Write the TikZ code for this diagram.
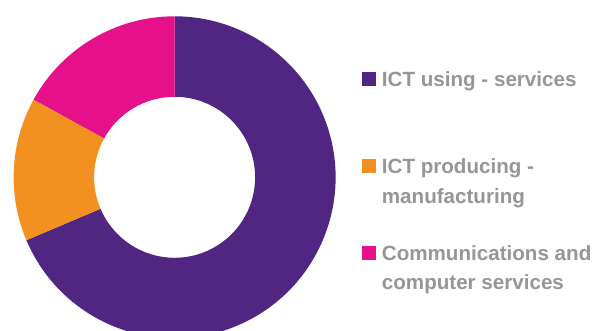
\documentclass[tikz,border=0pt]{standalone}
\usepackage{fontspec}
\setmainfont{Liberation Sans}
\definecolor{cPurple}{RGB}{81,38,131}
\definecolor{cOrange}{RGB}{243,145,32}
\definecolor{cPink}{RGB}{230,16,138}
\definecolor{cText}{RGB}{150,150,150}
\tikzset{
  legtext/.style={anchor=base west, inner sep=0pt, text=cText, font=\fontsize{20.6}{30}\selectfont\bfseries},
  legbox/.style={inner sep=0pt, minimum size=14pt, anchor=south west},
}
\begin{document}
\begin{tikzpicture}[x=1pt,y=1pt]
\clip (0,0) rectangle (595,331);
\fill[white] (0,0) rectangle (595,331);
\begin{scope}[shift={(174.6,153.7)}]
  \fill[cPurple] (203:161) arc[start angle=203, end angle=450, radius=161] -- (450:80.5) arc[start angle=450, end angle=203, radius=80.5] -- cycle;
  \fill[cPink] (90:161) arc[start angle=90, end angle=151.2, radius=161] -- (151.2:80.5) arc[start angle=151.2, end angle=90, radius=80.5] -- cycle;
  \fill[cOrange] (151.2:161) arc[start angle=151.2, end angle=203, radius=161] -- (203:80.5) arc[start angle=203, end angle=151.2, radius=80.5] -- cycle;
\end{scope}
\node[legbox, fill=cPurple] (b1) at (361.7,244.3) {};
\node[legbox, fill=cOrange] (b2) at (361.7,157.7) {};
\node[legbox, fill=cPink] (b3) at (361.7,70.3) {};
\node[legtext] (t1) at (381.7,244.3) {ICT using - services};
\node[legtext] (t2a) at (381.7,157.7) {ICT producing -};
\node[legtext] (t2b) at (381.7,127.7) {manufacturing};
\node[legtext] (t3a) at (381.7,70) {Communications and};
\node[legtext] (t3b) at (381.7,41) {computer services};
\end{tikzpicture}
\end{document}
